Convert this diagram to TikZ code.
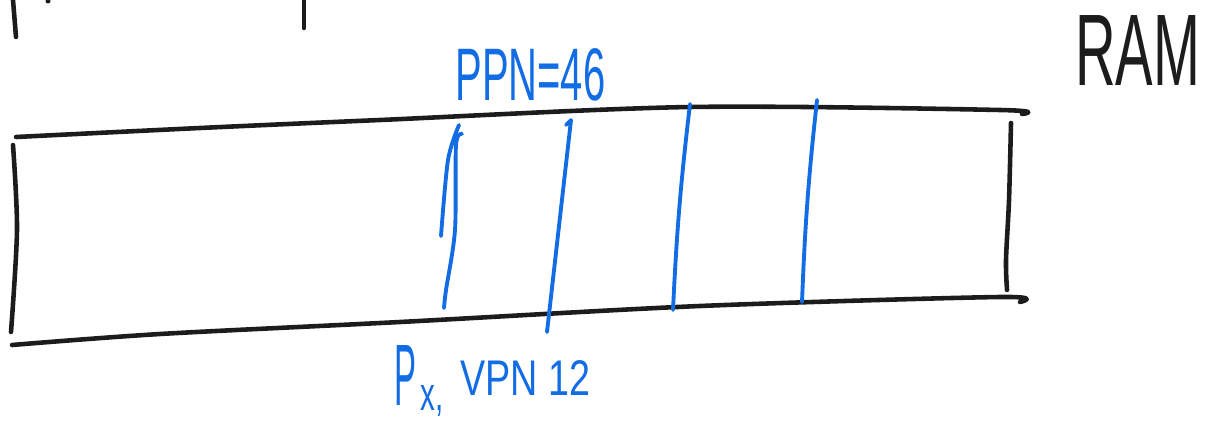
\documentclass[tikz,border=0pt]{standalone}
\usepackage{fontspec}
\usepackage{graphicx}
\setmainfont{Liberation Sans}
\definecolor{inkblue}{RGB}{18,108,228}
\definecolor{inkblack}{RGB}{28,28,28}
\tikzset{
  ink/.style={line width=2.6pt, line cap=round, line join=round, inkblack},
  blueink/.style={ink, line width=2.2pt, inkblue},
  scribble/.style={inner sep=0pt, anchor=north west}
}
\begin{document}
\begin{tikzpicture}[x=0.02cm,y=-0.02cm]
        \useasboundingbox (0,0) rectangle (1219,429);

        % bits of writing cut off at the top
        \draw [ink] (13,0) -- (16,37);
        \draw [ink] (304,0) -- (304,28);
        \fill [inkblack] (48,1) circle[radius=2.5];

        % the RAM strip
        \draw [ink] plot[smooth] coordinates {(16,137) (200,128) (380,120) (690,107) (1000,110) (1022,114)};
        \draw [ink] plot[smooth] coordinates {(12,345) (160,334) (400,322) (700,306) (1000,297) (1020,302)};
        \draw [ink] plot[smooth] coordinates {(13,145) (17,230) (11,332)};
        \draw [ink] plot[smooth] coordinates {(1011,123) (1009,200) (1006,260) (1007,290)};

        % page frames
        \draw [blueink] plot[smooth] coordinates {(459,125) (448,160) (441,236)};
        \draw [blueink] plot[smooth] coordinates {(462,134) (456,145) (455,230) (446,290) (444,308)};
        \draw [blueink] (566,125) -- (571,120) -- (547,332);
        \foreach \xa/\ya/\xb/\yb in {690/104/673/310, 817/100/802/302}
        \draw [blueink] (\xa,\ya) to[bend right=2] (\xb,\yb);

        \node [scribble, inkblue] (ppn) at (455,48) {\resizebox{3cm}{1.04cm}{PPN=46}};
        \node [scribble, inkblue] (proc) at (394,345) {\resizebox{0.44cm}{1.2cm}{P}};
        \node [scribble, inkblue] (procsub) at (420,385) {\resizebox{0.46cm}{0.5cm}{x,}};
        \node [scribble, inkblue] (vpn) at (460,360) {\resizebox{2.6cm}{0.7cm}{VPN 12}};
        \node [scribble, inkblack] (ram) at (1075,15) {\resizebox{2.5cm}{1.4cm}{RAM}};
      \end{tikzpicture}
\end{document}
